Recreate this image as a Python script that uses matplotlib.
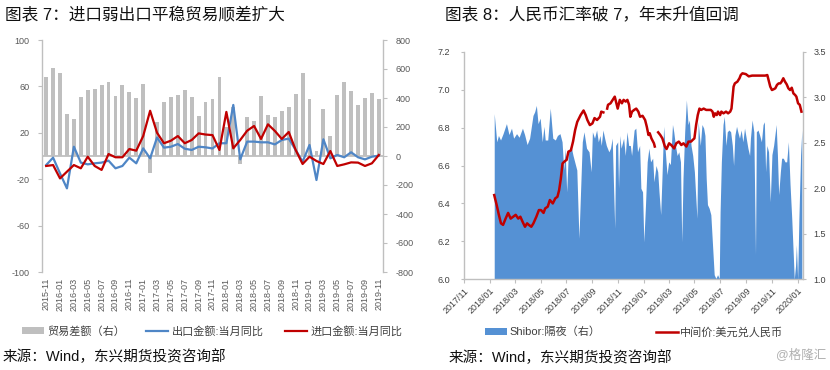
import numpy as np
import pandas as pd
import matplotlib
matplotlib.use('Agg')
import matplotlib.pyplot as plt
import matplotlib.dates as mdates
from matplotlib.patches import Patch
from matplotlib.lines import Line2D

plt.rcParams['font.family'] = ['Liberation Sans', 'Noto Sans CJK SC', 'DejaVu Sans']
plt.rcParams['axes.unicode_minus'] = False

# ---- chart 7: monthly trade data, 2015-11 .. 2019-11 ----
months = pd.period_range('2015-11', '2019-11', freq='M')
# trade balance, 100m USD (right axis)
trade_balance = [547, 605, 575, 287, 253, 405, 453, 460, 490, 508, 411, 487,
                 439, 402, 494, -115, 232, 372, 405, 418, 453, 405, 278, 375,
                 391, 545, 200, 335, -55, 267, 241, 414, 281, 267, 310, 336,
                 425, 575, 396, 37, 324, 138, 423, 508, 448, 354, 402, 435, 396]
# export yoy, %
export_yoy = [-7.8, -1.4, -15.0, -27.9, 8.0, -5.7, -7.2, -6.3, -5.7, -4.0, -10.6, -8.6,
              -1.4, -6.3, 6.6, -2.0, 16.0, 7.2, 8.0, 10.3, 6.3, 5.2, 8.0, 7.5,
              6.5, 11.0, 11.0, 44.0, -2.9, 12.4, 12.4, 11.8, 11.8, 10.0, 13.8, 15.0,
              5.2, -4.9, 9.5, -20.7, 14.4, -2.0, 0.9, -1.1, 3.2, -1.1, -2.9, -0.6, 0.3]
# import yoy, %
import_yoy = [-8.6, -7.8, -19.3, -13.5, -7.8, -10.6, -0.6, -8.6, -12.0, 1.7, -1.1, -1.1,
              6.0, 4.6, 17.2, 39.0, 20.0, 11.0, 13.2, 17.2, 11.0, 13.8, 19.5, 18.5,
              18.0, 5.2, 38.0, 6.6, 13.8, 21.8, 25.9, 14.7, 27.3, 21.6, 14.7, 20.7,
              5.2, -6.9, -0.6, -4.3, -6.9, 4.3, -8.6, -7.2, -5.5, -5.7, -8.6, -6.3, 0.9]

# ---- chart 8: daily readings (date, value) ----
shibor_on = [
    ('2018-01-11', 2.82), ('2018-01-17', 2.51), ('2018-01-21', 2.58), ('2018-01-26', 2.53),
    ('2018-02-01', 2.60), ('2018-02-09', 2.71), ('2018-02-15', 2.59), ('2018-02-21', 2.66),
    ('2018-02-26', 2.55), ('2018-03-05', 2.60), ('2018-03-11', 2.56), ('2018-03-19', 2.66),
    ('2018-03-24', 2.59), ('2018-03-30', 2.48), ('2018-04-05', 2.55), ('2018-04-13', 2.80),
    ('2018-04-17', 2.84), ('2018-04-21', 2.91), ('2018-04-25', 2.71), ('2018-04-30', 2.77),
    ('2018-05-05', 2.51), ('2018-05-09', 2.68), ('2018-05-12', 2.53), ('2018-05-18', 2.53),
    ('2018-05-24', 2.88), ('2018-05-30', 2.55), ('2018-06-05', 2.53), ('2018-06-10', 2.58),
    ('2018-06-16', 2.60), ('2018-06-21', 2.51), ('2018-06-25', 2.20), ('2018-06-28', 2.44),
    ('2018-07-02', 1.96), ('2018-07-06', 2.40), ('2018-07-12', 2.47), ('2018-07-17', 2.36),
    ('2018-07-26', 2.20), ('2018-07-31', 1.45), ('2018-08-08', 2.51), ('2018-08-12', 2.62),
    ('2018-08-18', 2.44), ('2018-08-24', 2.40), ('2018-08-29', 2.18), ('2018-09-01', 2.62),
    ('2018-09-06', 2.55), ('2018-09-11', 2.64), ('2018-09-15', 2.51), ('2018-09-19', 2.58),
    ('2018-09-22', 2.47), ('2018-09-26', 2.64), ('2018-09-30', 2.55), ('2018-10-04', 2.47),
    ('2018-10-10', 2.40), ('2018-10-14', 2.44), ('2018-10-18', 2.55), ('2018-10-21', 2.04),
    ('2018-10-24', 1.56), ('2018-10-26', 2.47), ('2018-10-31', 2.51), ('2018-11-02', 2.00),
    ('2018-11-05', 2.58), ('2018-11-08', 2.44), ('2018-11-14', 2.55), ('2018-11-18', 2.36),
    ('2018-11-22', 2.62), ('2018-11-26', 2.47), ('2018-11-30', 2.47), ('2018-12-03', 2.36),
    ('2018-12-09', 2.64), ('2018-12-13', 2.66), ('2018-12-17', 2.40), ('2018-12-22', 2.47),
    ('2018-12-25', 2.00), ('2018-12-29', 1.96), ('2019-01-01', 1.41), ('2019-01-05', 1.82),
    ('2019-01-09', 2.29), ('2019-01-13', 2.44), ('2019-01-17', 2.29), ('2019-01-22', 2.33),
    ('2019-01-25', 2.07), ('2019-01-30', 2.25), ('2019-02-03', 2.18), ('2019-02-06', 1.96),
    ('2019-02-10', 1.71), ('2019-02-13', 2.11), ('2019-02-17', 2.68), ('2019-02-21', 2.40),
    ('2019-02-25', 2.15), ('2019-03-01', 2.29), ('2019-03-05', 2.26), ('2019-03-10', 2.70),
    ('2019-03-13', 2.62), ('2019-03-17', 2.47), ('2019-03-21', 2.36), ('2019-03-25', 2.40),
    ('2019-03-29', 2.29), ('2019-04-01', 1.41), ('2019-04-04', 2.11), ('2019-04-08', 2.62),
    ('2019-04-12', 2.97), ('2019-04-16', 2.70), ('2019-04-19', 2.75), ('2019-04-23', 2.47),
    ('2019-04-27', 2.36), ('2019-05-01', 2.18), ('2019-05-07', 1.67), ('2019-05-10', 2.73),
    ('2019-05-15', 2.47), ('2019-05-19', 2.70), ('2019-05-23', 2.66), ('2019-05-26', 2.58),
    ('2019-05-29', 2.11), ('2019-06-01', 1.82), ('2019-06-05', 1.78), ('2019-06-09', 1.71),
    ('2019-06-13', 1.38), ('2019-06-17', 1.05), ('2019-06-21', 1.01), ('2019-06-25', 1.05),
    ('2019-06-29', 1.01), ('2019-07-01', 1.74), ('2019-07-04', 2.29), ('2019-07-08', 2.70),
    ('2019-07-11', 2.79), ('2019-07-15', 2.47), ('2019-07-18', 2.62), ('2019-07-22', 2.64),
    ('2019-07-26', 2.62), ('2019-07-30', 2.47), ('2019-08-02', 2.25), ('2019-08-05', 2.58),
    ('2019-08-09', 2.68), ('2019-08-12', 2.62), ('2019-08-16', 2.55), ('2019-08-20', 2.64),
    ('2019-08-24', 2.51), ('2019-08-28', 2.66), ('2019-09-01', 2.55), ('2019-09-05', 2.44),
    ('2019-09-09', 2.36), ('2019-09-11', 2.55), ('2019-09-15', 2.75), ('2019-09-19', 2.62),
    ('2019-09-23', 1.27), ('2019-09-25', 2.62), ('2019-09-29', 2.64), ('2019-10-03', 2.58),
    ('2019-10-07', 2.51), ('2019-10-11', 2.70), ('2019-10-14', 2.73), ('2019-10-17', 2.18),
    ('2019-10-20', 2.47), ('2019-10-24', 2.40), ('2019-10-28', 1.85), ('2019-11-01', 2.37),
    ('2019-11-05', 2.47), ('2019-11-09', 2.62), ('2019-11-11', 2.70), ('2019-11-14', 2.37),
    ('2019-11-17', 1.93), ('2019-11-21', 2.18), ('2019-11-24', 2.33), ('2019-11-28', 2.33),
    ('2019-12-02', 2.29), ('2019-12-06', 2.29), ('2019-12-10', 2.51), ('2019-12-14', 2.04),
    ('2019-12-18', 1.67), ('2019-12-22', 1.23), ('2019-12-24', 1.00), ('2019-12-27', 1.15),
    ('2019-12-29', 1.38), ('2020-01-01', 1.00), ('2020-01-04', 1.67), ('2020-01-08', 2.37),
    ('2020-01-11', 2.64),
]

usdcny_mid = [
    ('2018-01-11', 6.444), ('2018-01-17', 6.39), ('2018-01-22', 6.34), ('2018-01-27', 6.295),
    ('2018-02-01', 6.287), ('2018-02-07', 6.32), ('2018-02-13', 6.35), ('2018-02-19', 6.32),
    ('2018-02-25', 6.33), ('2018-03-03', 6.34), ('2018-03-09', 6.32), ('2018-03-14', 6.33),
    ('2018-03-20', 6.30), ('2018-03-25', 6.277), ('2018-03-30', 6.295), ('2018-04-03', 6.287),
    ('2018-04-09', 6.277), ('2018-04-14', 6.295), ('2018-04-21', 6.33), ('2018-04-27', 6.365),
    ('2018-05-02', 6.365), ('2018-05-08', 6.35), ('2018-05-12', 6.374), ('2018-05-18', 6.383),
    ('2018-05-23', 6.418), ('2018-05-30', 6.40), ('2018-06-05', 6.427), ('2018-06-10', 6.435),
    ('2018-06-14', 6.47), ('2018-06-18', 6.53), ('2018-06-22', 6.61), ('2018-06-26', 6.62),
    ('2018-07-02', 6.63), ('2018-07-06', 6.673), ('2018-07-12', 6.68), ('2018-07-17', 6.726),
    ('2018-07-22', 6.787), ('2018-07-27', 6.83), ('2018-08-04', 6.866), ('2018-08-11', 6.89),
    ('2018-08-16', 6.866), ('2018-08-20', 6.84), ('2018-08-26', 6.813), ('2018-09-01', 6.822),
    ('2018-09-06', 6.85), ('2018-09-12', 6.84), ('2018-09-19', 6.857), ('2018-09-22', 6.884),
    ('2018-09-27', 6.88), ('2018-10-01', np.nan), ('2018-10-06', 6.90), ('2018-10-08', 6.92),
    ('2018-10-14', 6.928), ('2018-10-19', 6.946), ('2018-10-24', 6.963), ('2018-10-28', 6.928),
    ('2018-10-31', 6.90), ('2018-11-05', 6.946), ('2018-11-10', 6.928), ('2018-11-14', 6.946),
    ('2018-11-19', 6.937), ('2018-11-23', 6.946), ('2018-11-27', 6.92), ('2018-11-30', 6.857),
    ('2018-12-04', 6.884), ('2018-12-09', 6.893), ('2018-12-14', 6.90), ('2018-12-19', 6.884),
    ('2018-12-23', 6.857), ('2018-12-29', 6.862), ('2019-01-04', 6.84), ('2019-01-08', 6.805),
    ('2019-01-12', 6.761), ('2019-01-15', 6.77), ('2019-01-19', 6.743), ('2019-01-25', 6.717),
    ('2019-01-27', 6.70), ('2019-02-01', np.nan), ('2019-02-04', 6.775), ('2019-02-09', 6.761),
    ('2019-02-14', 6.743), ('2019-02-20', 6.70), ('2019-02-24', 6.687), ('2019-03-02', 6.717),
    ('2019-03-07', 6.708), ('2019-03-14', 6.69), ('2019-03-19', 6.717), ('2019-03-25', 6.726),
    ('2019-03-31', 6.708), ('2019-04-05', 6.717), ('2019-04-12', 6.70), ('2019-04-17', 6.726),
    ('2019-04-23', 6.726), ('2019-04-27', 6.735), ('2019-05-01', 6.743), ('2019-05-05', 6.813),
    ('2019-05-09', 6.866), ('2019-05-13', 6.90), ('2019-05-17', 6.893), ('2019-05-23', 6.90),
    ('2019-05-29', 6.893), ('2019-06-03', 6.893), ('2019-06-09', 6.893), ('2019-06-13', 6.884),
    ('2019-06-16', 6.857), ('2019-06-19', 6.875), ('2019-06-23', 6.866), ('2019-06-26', 6.884),
    ('2019-07-01', 6.866), ('2019-07-04', 6.884), ('2019-07-09', 6.875), ('2019-07-15', 6.884),
    ('2019-07-20', 6.875), ('2019-07-25', 6.884), ('2019-07-28', 6.90), ('2019-07-30', 6.946),
    ('2019-08-02', 7.016), ('2019-08-05', 7.033), ('2019-08-11', 7.042), ('2019-08-16', 7.06),
    ('2019-08-19', 7.077), ('2019-08-23', 7.086), ('2019-08-31', 7.082), ('2019-09-07', 7.07),
    ('2019-09-15', 7.074), ('2019-09-27', 7.074), ('2019-10-08', 7.074), ('2019-10-16', 7.074),
    ('2019-10-21', 7.077), ('2019-10-23', 7.06), ('2019-10-28', 7.016), ('2019-11-01', 6.998),
    ('2019-11-05', 7.002), ('2019-11-09', 7.007), ('2019-11-13', 7.025), ('2019-11-17', 7.033),
    ('2019-11-21', 7.033), ('2019-11-24', 7.042), ('2019-11-28', 7.06), ('2019-12-02', 7.042),
    ('2019-12-06', 7.028), ('2019-12-10', 7.007), ('2019-12-14', 6.998), ('2019-12-18', 7.01),
    ('2019-12-22', 6.98), ('2019-12-26', 6.972), ('2019-12-29', 6.963), ('2020-01-02', 6.928),
    ('2020-01-06', 6.92), ('2020-01-10', 6.884),
]

GRAY = '#bfbfbf'
TXT = '#595959'
BLUE = '#4f86c6'
RED = '#c00000'

fig = plt.figure(figsize=(8.3, 3.7), dpi=100)

def style_spines(ax, which):
    for s in ['top', 'bottom', 'left', 'right']:
        ax.spines[s].set_visible(s in which)
        ax.spines[s].set_color(GRAY)
        ax.spines[s].set_linewidth(1)

# ------------------------------ chart 7 ------------------------------
ax1 = fig.add_axes([42/830, 1-272/370, 341/830, 232/370])
ax1r = ax1.twinx()
x = np.arange(len(months))

ax1r.bar(x, trade_balance, width=0.55, color=GRAY, zorder=1)
ax1r.axhline(0, color=GRAY, lw=1.3, zorder=2)
ax1r.set_ylim(-800, 800)
ax1r.set_yticks(np.arange(-800, 801, 200))

ax1.plot(x, export_yoy, color=BLUE, lw=1.6, zorder=3)
ax1.plot(x, import_yoy, color=RED, lw=1.6, zorder=4)
ax1.set_ylim(-100, 100)
ax1.set_yticks(np.arange(-100, 101, 40))
ax1.set_xlim(-0.6, len(months) - 0.4)
ax1.set_xticks(x[::2])
ax1.set_xticklabels([str(m) for m in months[::2]], rotation=90, fontsize=6.5, color=TXT)
ax1.tick_params(axis='x', length=0, pad=4)

ax1.set_zorder(ax1r.get_zorder() + 1)
ax1.patch.set_visible(False)
style_spines(ax1, ['left'])
style_spines(ax1r, ['right'])
ax1.tick_params(axis='y', labelsize=6.5, labelcolor=TXT, color=GRAY, length=3, pad=6)
ax1r.tick_params(axis='y', labelsize=6.5, labelcolor=TXT, color=GRAY, length=3, pad=6)

fig.text(5/830, 1-14/370, '图表 7：进口弱出口平稳贸易顺差扩大', fontsize=12,
         va='center', ha='left', color='#111111')

h1 = [Patch(facecolor=GRAY, edgecolor='none'),
      Line2D([], [], color=BLUE, lw=1.6),
      Line2D([], [], color=RED, lw=1.6)]
fig.legend(h1, ['贸易差额（右）', '出口金额:当月同比', '进口金额:当月同比'],
           loc='center', bbox_to_anchor=(212/830, 1-331/370), ncol=3, frameon=False,
           fontsize=8, handlelength=2.0, handleheight=0.6, columnspacing=1.9,
           handletextpad=0.3, labelcolor='#404040')
fig.text(3/830, 1-357/370, '来源：Wind，东兴期货投资咨询部', fontsize=10.5,
         va='center', ha='left', color='#111111')

# ------------------------------ chart 8 ------------------------------
ax2 = fig.add_axes([464.3/830, 1-279.3/370, 338.4/830, 227.6/370])
ax2r = ax2.twinx()

sh_dates = pd.to_datetime([d for d, v in shibor_on])
sh_vals = [v for d, v in shibor_on]
fx_dates = pd.to_datetime([d for d, v in usdcny_mid])
fx_vals = [v for d, v in usdcny_mid]

ax2r.fill_between(sh_dates, sh_vals, 1.0, color='#5591d4', lw=0)
ax2r.set_ylim(1.0, 3.5)
ax2r.set_yticks(np.arange(1.0, 3.51, 0.5))
ax2r.yaxis.set_major_formatter(plt.FormatStrFormatter('%.1f'))

ax2.plot(fx_dates, fx_vals, color=RED, lw=1.8)
ax2.set_ylim(6.0, 7.2)
ax2.set_yticks(np.arange(6.0, 7.21, 0.2))
ax2.yaxis.set_major_formatter(plt.FormatStrFormatter('%.1f'))
ax2.set_xlim(pd.Timestamp('2017-11-01'), pd.Timestamp('2020-01-13'))
ax2.xaxis.set_major_locator(mdates.MonthLocator(bymonth=[1, 3, 5, 7, 9, 11]))
ax2.xaxis.set_major_formatter(mdates.DateFormatter('%Y/%m'))
for lab in ax2.get_xticklabels():
    lab.set_rotation(45)
    lab.set_ha('right')
    lab.set_rotation_mode('anchor')

ax2.set_zorder(ax2r.get_zorder() + 1)
ax2.patch.set_visible(False)
style_spines(ax2, ['left', 'bottom'])
style_spines(ax2r, ['right'])
ax2.tick_params(axis='x', labelsize=6.5, labelcolor='#404040', color=GRAY, length=3, pad=2)
ax2.tick_params(axis='y', labelsize=6.5, labelcolor='#404040', color=GRAY, length=2, pad=8)
ax2r.tick_params(axis='y', labelsize=6.5, labelcolor='#404040', color=GRAY, length=2, pad=6)

fig.text(445/830, 1-14/370, '图表 8：人民币汇率破 7，年末升值回调', fontsize=12,
         va='center', ha='left', color='#111111')

h2 = [Patch(facecolor='#5591d4', edgecolor='none'), Line2D([], [], color=RED, lw=1.8)]
fig.legend(h2, ['Shibor:隔夜（右）', '中间价:美元兑人民币'],
           loc='center', bbox_to_anchor=(634/830, 1-332/370), ncol=2, frameon=False,
           fontsize=8, handlelength=2.0, handleheight=0.6, columnspacing=5.0,
           handletextpad=0.2, labelcolor='#404040')
fig.text(449/830, 1-358/370, '来源：Wind，东兴期货投资咨询部', fontsize=10.5,
         va='center', ha='left', color='#111111')
fig.text(826/830, 1-355/370, '@格隆汇', fontsize=9, va='center', ha='right', color='#b0b0b0')

fig.savefig('out.png', dpi=100)
